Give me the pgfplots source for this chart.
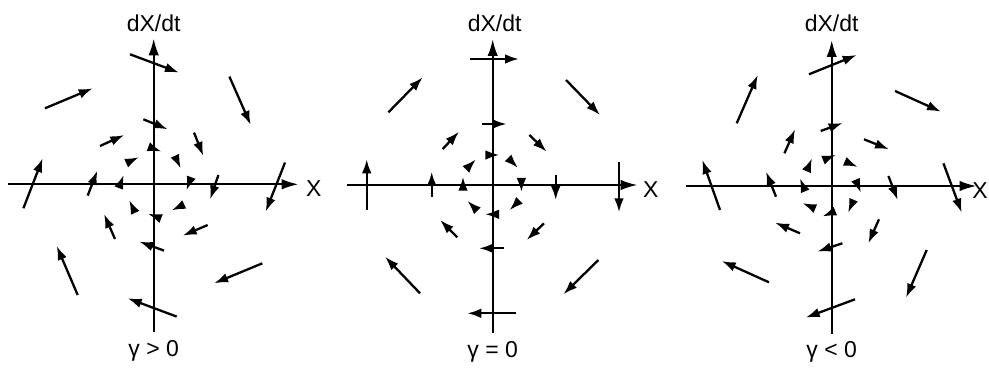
\documentclass[border=0pt]{standalone}
\usepackage{fontspec}
\setmainfont{Liberation Sans}
\usepackage{pgfplots}
\pgfplotsset{compat=1.18}
\usepackage{pgfplotstable}
\usetikzlibrary{arrows.meta}

% Phase-plane vectors: tail (x,y) and displacement (u,v), one table per panel
\pgfplotstableread{
x y u v
-23.7 130 49 -18.3
75.7 107.7 21.3 -48.3
-108.7 76 47.7 20
-130.3 -24 19.3 50
131.3 21.7 -19.3 -49
-76 -110.7 -21 49
108.7 -79 -48.3 -20
23 -132.3 -49 18.3
-10.3 65 24.3 -10
-53.7 38.3 24.3 11
40.3 51.7 9.3 -23.3
-66 -11.3 9.7 25
64.7 9.3 -8.3 -24.3
-38.7 -54.7 -11 25
54 -40.7 -25 -10.7
10.3 -66.3 -24.7 9
-4.4 37.2 12.2 -4.5
-26.6 21.6 11.8 5.5
21.6 27.6 5.5 -11.8
-34.5 -2.8 4.5 12.2
37.2 6.1 -4.5 -12.2
-19 -27.6 -5.5 11.8
29.6 -20.6 -11.8 -5.5
6.4 -33.9 -12.2 4.5
}\damped

\pgfplotstableread{
x y u v
-22.7 126 49 0
73.3 105 34 -35
-104.3 72.7 34.3 35
-126 -25 0 50.7
126.3 22.7 0 -50
-72.7 -108.3 -35 36.6
105.7 -75 -35 -34.3
23.3 -128.3 -48.7 0
-10.3 61 24.3 0
-50 36 16.3 17.3
36.7 50 17.3 -16.7
-61 -11.7 0 25
63 10 0 -25
-35.3 -52.3 -17.3 17.3
51.3 -38.3 -17.3 -16.7
11.3 -63.3 -25 0
-5.3 30 12 0
-25.3 17.1 8.5 8.5
16.8 25.6 8.5 -8.5
-29.7 -3.7 0 12
28.7 5 0 -12
-16.8 -24.3 -8.5 8.5
25.3 -16.8 -8.5 -8.5
4.3 -29.3 -12 0
}\undamped

\pgfplotstableread{
x y u v
-22.7 111.7 47.7 19.3
-95 62.7 21 48.3
63.3 95 46 -20.7
-111.7 -24 -17.7 50
111.7 22.7 18.3 -49.3
-62.7 -96.3 -47.3 21.3
95 -64 -20.7 -47.7
23.3 -113.3 -49.3 -18.3
-11 55 22 8
-47.3 32.7 10.7 24
32.3 46.7 25 -10
-55.7 -10.7 -10 25
56.7 10 9.3 -24
-31.7 -47.3 -25 10.7
47.3 -33.3 -10.7 -24
10.7 -57.3 -25 -8.3
-7.7 26.3 12 4.9
-24.8 15.7 5.1 12
14 24.2 12 -5.1
-26.9 -4.3 -4.9 12
24.3 5.3 4.9 -12
-17.3 -22.2 -12 5.1
21.5 -14.7 -5.1 -12
2.7 -25.6 -12 -4.9
}\antidamped

\pgfplotsset{
  phaseplane/.style={
    x=0.5pt, y=0.5pt,
    xmin=-146, xmax=145, ymin=-148, ymax=146,
    axis lines*=middle,
    axis line style={line width=1.15pt, -{Latex[length=8.5pt,width=5.2pt]}},
    xtick=\empty, ytick=\empty,
    clip=false,
    anchor=south west,
  },
  vec/.style={
    black, line width=1.15pt, -{Latex[length=7pt,width=4.8pt]},
    quiver={u=\thisrow{u}, v=\thisrow{v}},
  },
}

\newcommand{\lbl}{\fontsize{11.5}{13}\selectfont}

\begin{document}
\begin{tikzpicture}
\path[use as bounding box] (0pt,0pt) rectangle (494.5pt,187pt);

\begin{axis}[phaseplane, at={(3.85pt,20.85pt)}]
  \addplot[vec] table[x=x,y=y] {\damped};
  \node[font=\lbl] at (axis cs:0,161) {dX/dt};
  \node[font=\lbl] at (axis cs:160,-4.5) {X};
  \node[font=\lbl] at (axis cs:0,-167) {γ > 0};
\end{axis}

\begin{axis}[phaseplane, at={(173.35pt,20.5pt)}]
  \addplot[vec] table[x=x,y=y] {\undamped};
  \node[font=\lbl] at (axis cs:2,162) {dX/dt};
  \node[font=\lbl] at (axis cs:158,-4.5) {X};
  \node[font=\lbl] at (axis cs:0,-167) {γ = 0};
\end{axis}

\begin{axis}[phaseplane, at={(342.85pt,20pt)}]
  \addplot[vec] table[x=x,y=y] {\antidamped};
  \node[font=\lbl] at (axis cs:0,163) {dX/dt};
  % set flush against the right edge of the figure
  \node[font=\lbl, anchor=east, inner xsep=0pt] at (axis cs:156.3,-4.5) {X};
  \node[font=\lbl] at (axis cs:0,-166) {γ < 0};
\end{axis}
\end{tikzpicture}
\end{document}
